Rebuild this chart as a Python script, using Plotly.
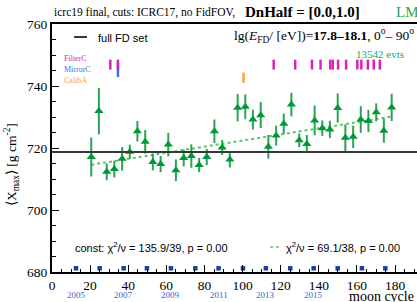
import plotly.graph_objects as go

# ---------------- data ----------------
moon_cycle = [20.6, 24.6, 28.7, 32.7, 36.8, 40.8, 44.8, 48.9, 52.9, 57.0,
              61.0, 65.0, 69.1, 73.1, 77.2, 81.2, 85.2, 89.3, 93.3, 97.4,
              101.4, 105.4, 109.5, 113.5, 117.6, 121.6, 125.6, 129.7, 133.7, 137.8,
              141.8, 145.8, 149.9, 153.9, 158.0, 162.0, 166.0, 170.1, 174.1, 178.2]
xmax_mean = [717.1, 731.9, 712.3, 713.2, 716.5, 718.8, 725.4, 722.0, 715.5, 714.8,
             721.1, 712.8, 716.8, 717.4, 714.5, 717.1, 725.4, 720.2, 716.3, 733.0,
             733.3, 729.2, 730.6, 720.4, 724.0, 727.8, 734.0, 722.5, 721.3, 728.9,
             726.4, 726.0, 732.9, 723.3, 723.6, 729.2, 728.7, 731.5, 725.6, 733.1]
xmax_err = [6.3, 7.5, 2.7, 2.7, 3.8, 2.3, 3.3, 3.8, 2.7, 2.6,
            3.8, 3.5, 2.7, 3.8, 2.3, 2.6, 3.8, 2.4, 2.6, 4.4,
            4.0, 3.2, 4.2, 3.8, 3.2, 3.3, 3.8, 2.2, 2.9, 4.8,
            2.5, 2.8, 4.7, 4.3, 3.6, 4.3, 3.6, 2.9, 3.9, 4.4]

full_set_value = 718.7          # constant (full FD set)
fit_intercept = 712.57          # linear fit
fit_slope = 0.0984

filterC_cycles = [30.6, 34.6, 116.3, 127.6, 136.4, 140.9, 146.0, 147.3, 150.1,
                  154.3, 160.2, 162.3, 165.7, 168.8, 172.0]
filterC_range = [745.3, 748.5]
mirrorC_cycles = [34.6]
mirrorC_range = [742.9, 747.7]
calibA_cycles = [100.5]
calibA_range = [741.0, 744.3]

year_start_cycles = [12.6, 25.0, 37.6, 49.8, 62.4, 75.2, 87.4, 100.2, 112.2,
                     125.0, 137.3, 149.9, 162.6, 174.9]
labelled_years = [2005, 2007, 2009, 2011, 2013, 2015]
labelled_year_cycles = [12.6, 37.6, 62.4, 87.4, 112.2, 137.3]

x_ticks = [0, 20, 40, 60, 80, 100, 120, 140, 160, 180]
y_ticks = [680, 700, 720, 740, 760]

# ---------------- layout geometry ----------------
W, H = 417, 302
L, R, T, B = 52, 0, 24, 30
PW, PH = W - L - R, H - T - B

def px(x):
    return (x - L) / PW

def py(y):
    return (H - B - y) / PH

SERIF = "Liberation Serif"
SANS = "Liberation Sans"
GREEN = "#00993a"

fig = go.Figure()

# event markers
def seg(xs, rng):
    X, Y = [], []
    for v in xs:
        X += [v, v, None]
        Y += [rng[0], rng[1], None]
    return X, Y

for xs_, rng, col in [(mirrorC_cycles, mirrorC_range, "#3f6fd8"),
                      (filterC_cycles, filterC_range, "#dd22b8"),
                      (calibA_cycles, calibA_range, "#ffa332")]:
    X, Y = seg(xs_, rng)
    fig.add_trace(go.Scatter(x=X, y=Y, mode="lines", line=dict(color=col, width=2.5),
                             hoverinfo="skip", showlegend=False))

# linear fit
fx = [moon_cycle[0], moon_cycle[-1]]
fy = [fit_intercept + fit_slope * v for v in fx]
fig.add_trace(go.Scatter(x=fx, y=fy, mode="lines",
                         line=dict(color="#5cc46e", width=2, dash="dot"),
                         showlegend=False))

# data
fig.add_trace(go.Scatter(
    x=moon_cycle, y=xmax_mean, mode="markers",
    marker=dict(symbol="triangle-up", size=8, color=GREEN),
    error_y=dict(type="data", array=xmax_err, color="#2aa452", thickness=2, width=0),
    showlegend=False))

# year squares
fig.add_trace(go.Scatter(
    x=year_start_cycles, y=[681.2] * len(year_start_cycles), mode="markers",
    marker=dict(symbol="square", size=4.5, color="#1d3f9e"),
    cliponaxis=False, showlegend=False))

shapes = [
    dict(type="line", xref="paper", yref="y", x0=0, x1=1,
         y0=full_set_value, y1=full_set_value,
         line=dict(color="#383838", width=2)),
    dict(type="line", xref="paper", yref="paper", x0=px(74), x1=px(87),
         y0=py(37), y1=py(37), line=dict(color="#383838", width=2)),
    dict(type="line", xref="paper", yref="paper", x0=px(270), x1=px(282),
         y0=py(247), y1=py(247), line=dict(color="#5cc46e", width=1.5, dash="dot")),
]

ann = []
def A(text, x, y, size, family=SERIF, color="black", xanchor="left", **kw):
    ann.append(dict(text=text, x=px(x), y=py(y), xref="paper", yref="paper",
                    xanchor=xanchor, yanchor="middle", showarrow=False,
                    font=dict(family=family, size=size, color=color), **kw))

A("icrc19 final, cuts: ICRC17, no FidFOV,", 52, 12.5, 11.5)
A("<b>DnHalf = [0.0,1.0]</b>", 243, 11.5, 15)
A("LM", 394, 11.5, 15, color="#22aa44")
A("full FD set", 96, 37.5, 11, family=SANS)
A("lg(<i>E</i><sub>FD</sub>/ [eV])=<b>17.8\u201318.1</b>, 0<sup>o</sup>\u2013 90<sup>o</sup>",
  416, 36, 13.5, xanchor="right")
A("13542 evts", 406, 54, 11, color="#22aa55", xanchor="right")
A("FilterC", 62, 58.5, 8, color="#dd22b8")
A("MirrorC", 62, 69.5, 8, color="#3f6fd8")
A("CalibA", 62, 80, 8, color="#ffa332")
A("const: \u03c7<sup>2</sup>/\u03bd = 135.9/39, p = 0.00", 73, 247, 11, family=SANS)
A("\u03c7<sup>2</sup>/\u03bd = 69.1/38, p = 0.00", 284, 247, 11, family=SANS)
A("moon cycle", 347, 296, 14)
A("\u27e8X<sub>max</sub>\u27e9 [g cm<sup>-2</sup>]", 11, 165, 13.5, xanchor="center",
  textangle=-90)

for xv, lab in zip(labelled_year_cycles, labelled_years):
    ann.append(dict(text=str(lab), x=xv, y=py(295), xref="x", yref="paper",
                    xanchor="center", yanchor="middle", showarrow=False,
                    font=dict(family=SERIF, size=9, color="#3a62cc")))

fig.update_layout(
    width=W, height=H, margin=dict(l=L, r=R, t=T, b=B, pad=0),
    paper_bgcolor="white", plot_bgcolor="white",
    shapes=shapes, annotations=ann, showlegend=False,
    xaxis=dict(range=[0, 191.5], tickvals=x_ticks, ticks="inside", ticklen=7,
               tickwidth=1.2, tickcolor="black", showline=True, linewidth=2,
               linecolor="black", mirror=True, showgrid=False, zeroline=False,
               tickfont=dict(family=SERIF, size=13.5, color="black"),
               minor=dict(dtick=5, tick0=0, ticks="inside", ticklen=3.5, tickcolor="black",
                          tickwidth=1, showgrid=False)),
    yaxis=dict(range=[680, 760], tickvals=y_ticks, ticks="inside", ticklen=7,
               tickwidth=1.2, tickcolor="black", showline=True, linewidth=2,
               linecolor="black", showgrid=False, zeroline=False,
               tickfont=dict(family=SERIF, size=13.5, color="black"),
               minor=dict(dtick=5, tick0=680, ticks="inside", ticklen=3.5, tickcolor="black",
                          tickwidth=1, showgrid=False)),
)

fig.write_html("out.html", config={"displayModeBar": False},
               post_script="document.body.style.margin='0';document.body.style.overflow='hidden';")
